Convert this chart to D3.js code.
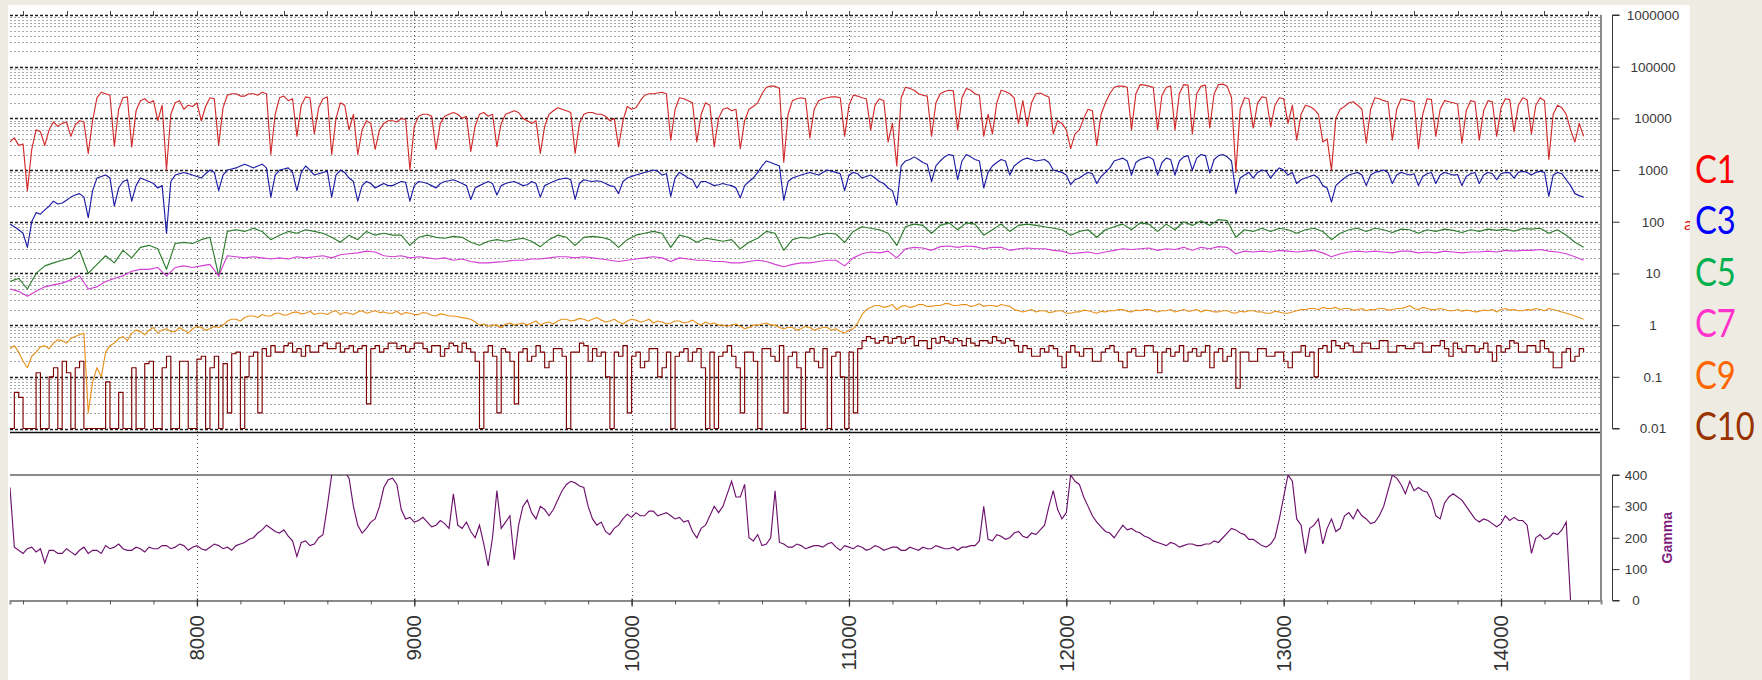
<!DOCTYPE html>
<html>
<head>
<meta charset="utf-8">
<script src="https://cdn.jsdelivr.net/npm/d3@7"></script>
<style>
  body { margin: 0; background: #eeece2; }
  svg { display: block; }
</style>
</head>
<body>
<svg id="chart" width="1762" height="680"></svg>
<script>
// Sample grid of the logs: first depth and the two sampling intervals
const depthStart = 7140;
const fineStep = 20;
const coarseStep = 40;

// C1 (fine grid)
const c1 = [3500,4200,3000,3200,400,2500,6000,5500,3000,6000,8500,7000,8000,8500,4500,7500,9000,8500,2100,9000,
  25000,32000,30000,28000,2900,15000,25000,26000,2800,14000,22000,24000,20000,22000,9000,18000,1000,12000,20000,22000,
  15000,18000,17000,20000,9000,17000,25000,24000,3000,16000,28000,30000,30000,27000,27000,30000,30000,28000,32000,30000,
  2000,12000,25000,27000,22000,24000,4500,18000,26000,25000,5000,16000,24000,26000,2000,10000,20000,18000,6000,12000,
  2000,6000,9000,8000,2500,6000,8000,9000,9000,8500,10000,9500,1000,7000,11000,12000,12000,11000,2500,8000,
  11000,12000,13000,12000,10000,11000,2300,7000,12000,13000,11000,12000,2850,8000,12000,13000,14000,13000,10000,9000,
  8000,9000,2100,7000,12000,14000,16000,15000,14000,13000,2100,8000,12000,13000,13000,12000,12000,11000,9000,10000,
  2800,9000,17000,15000,16000,22000,28000,30000,30000,31000,32000,30000,3800,15000,25000,24000,22000,20000,3500,12000,
  20000,18000,2800,10000,15000,16000,14000,15000,2600,9000,15000,17000,20000,30000,40000,42000,42000,38000,1400,12000,
  22000,24000,25000,24000,4200,15000,22000,24000,25000,26000,26000,25000,4500,18000,28000,27000,25000,24000,6000,18000,
  24000,22000,3500,8000,1200,25000,40000,38000,35000,30000,28000,27000,4500,20000,30000,33000,35000,34000,6000,25000,
  38000,35000,30000,28000,4500,12000,5000,20000,35000,33000,30000,25000,8000,22000,7000,20000,30000,31000,28000,26000,
  5000,9000,8000,6000,2600,5000,6000,10000,15000,14000,3000,12000,20000,30000,40000,42000,42000,40000,6000,30000,
  45000,44000,42000,40000,6000,28000,40000,42000,6000,30000,45000,44000,5000,30000,42000,44000,6500,30000,45000,46000,
  42000,25000,900,15000,25000,24000,6500,20000,26000,25000,6800,18000,25000,24000,8000,18000,3800,12000,18000,17000,
  15000,12000,3500,4000,1000,10000,15000,17000,20000,21000,18000,15000,3300,15000,25000,24000,22000,21000,3800,15000,
  24000,23000,22000,21000,2600,12000,24000,23000,4500,15000,22000,21000,20000,19000,3300,14000,22000,21000,3800,14000,
  22000,21000,4500,16000,24000,23000,5500,18000,25000,23000,5000,18000,25000,22000,1600,12000,18000,16000,12000,6000,
  3500,8000,4500];

// C3 (fine grid)
const c3 = [90,80,70,60,32,100,150,140,170,200,250,220,230,260,300,330,350,300,120,400,
  700,750,800,700,200,450,600,650,250,500,700,650,600,550,450,500,60,600,800,850,
  900,850,800,750,700,850,1000,900,400,800,1000,1050,1100,1200,1300,1200,1100,1200,1300,1100,
  300,800,1000,1050,1100,900,400,900,1200,1000,800,850,900,950,300,800,1000,900,700,600,
  250,500,600,550,450,500,550,500,500,550,600,580,250,500,600,580,550,500,450,550,
  600,620,650,600,550,500,270,450,500,550,600,550,330,500,550,580,600,550,500,520,
  600,550,300,500,550,600,650,680,700,650,270,550,650,620,600,620,600,550,500,480,
  350,600,700,750,800,850,900,950,1000,950,800,850,310,700,900,800,700,650,450,600,
  600,550,500,520,550,520,500,450,290,500,600,700,900,1200,1500,1400,1300,1200,260,600,
  700,750,800,850,900,850,800,900,1000,950,900,850,400,800,900,850,700,750,800,700,
  600,550,450,400,210,1200,1500,1600,1800,1600,1400,1300,600,1200,1500,1800,2000,1900,650,1500,
  2000,1800,1600,1500,450,900,1200,1400,1600,1500,800,1200,1400,1600,1700,1600,1500,1550,1600,1400,
  1000,950,900,800,520,650,700,800,900,850,550,750,900,1100,1500,1600,1700,1500,800,1400,
  1600,1700,1800,1600,800,1400,1700,1600,800,1500,1800,1900,1000,1700,2000,1900,870,1600,1900,2000,
  1800,1500,350,700,800,900,700,900,1000,950,700,900,1100,1000,800,900,550,650,700,750,
  800,700,500,450,240,500,600,700,800,850,900,800,500,800,900,950,1000,900,550,800,
  900,850,800,850,500,750,850,900,550,800,900,850,800,820,500,750,850,900,550,800,
  900,850,650,850,900,880,700,900,950,900,800,900,950,900,310,800,900,850,650,500,
  350,320,300];

// C5 (coarse grid)
const c5 = [7,8,5,10,14,16,18,20,28,10,
  15,22,16,28,20,32,35,30,12,38,
  40,38,45,50,9,65,70,65,75,65,
  45,55,65,60,70,65,60,50,40,55,
  45,65,55,60,55,55,35,50,55,50,
  48,52,50,40,35,42,45,42,45,48,
  42,33,45,55,50,35,50,52,50,45,
  32,45,55,60,65,60,32,55,50,40,
  48,45,42,45,30,40,48,65,60,28,
  45,50,48,55,60,58,40,65,80,75,
  70,60,35,80,90,85,60,85,95,70,
  95,90,55,70,90,65,85,90,85,80,
  75,70,55,65,70,50,70,80,90,70,
  95,90,65,90,70,100,85,105,85,110,
  105,50,70,65,75,65,75,70,60,70,
  75,65,45,60,70,75,65,75,70,62,
  72,70,60,70,65,72,68,62,70,65,
  72,68,72,66,74,72,75,60,70,55,
  40,32];

// C7 (coarse grid)
const c7 = [5,4.5,3.6,4.5,5.5,6,6.5,7.5,9,5,
  5.5,7,8,9,11,12,12,13,9,13,
  14,13,14,15,9,22,21,20,21,20,
  19,20,19,21,20,21,22,20,23,24,
  25,27,26,22,21,22,20,21,20,19,
  20,18,19,17,16,16,16.5,17,18,18,
  19,19,20,21,21,20,21,20,19,18,
  17,18,19,20,21,20,17,20,19,18,
  18,17,17,16,16,17,18,17,15,13.5,
  15,16,16,17,18,18,14,20,24,26,
  25,27,20,30,32,31,28,33,34,32,
  34,33,30,32,32,28,30,31,30,30,
  28,27,24,25,26,24,26,28,30,29,
  30,31,28,30,29,32,28,32,30,33,
  32,24,27,26,27,26,28,27,26,27,
  28,25,21,24,26,27,26,27,26,25,
  27,27,25,26,25,27,26,25,26,26,
  27,26,28,27,28,28,29,27,26,24,
  21,18];

// C9 (fine grid)
const c9 = [0.35,0.4,0.3,0.2,0.15,0.25,0.3,0.38,0.4,0.35,0.45,0.52,0.5,0.45,0.55,0.6,0.65,0.7,0.02,0.08,
  0.15,0.1,0.3,0.4,0.45,0.55,0.6,0.5,0.7,0.8,0.75,0.65,0.8,0.9,0.7,0.8,0.85,0.75,0.75,0.9,
  0.8,0.7,0.85,0.95,0.9,0.8,0.85,0.95,0.9,1.0,1.2,1.3,1.3,1.2,1.4,1.5,1.5,1.4,1.6,1.5,
  1.5,1.7,1.7,1.55,1.6,1.75,1.8,1.65,1.7,1.85,1.6,1.7,1.7,1.6,1.8,1.9,1.6,1.75,1.7,1.6,
  1.8,1.9,1.7,1.8,1.9,1.75,1.8,1.7,1.7,1.85,1.6,1.75,1.7,1.6,1.6,1.75,1.7,1.55,1.5,1.65,
  1.6,1.5,1.5,1.45,1.4,1.35,1.3,1.15,1.0,1.05,0.95,1.0,1.0,0.9,1.05,1.1,1.0,1.05,1.1,1.0,
  1.1,1.2,1.0,1.1,1.15,1.05,1.2,1.3,1.3,1.2,1.25,1.35,1.3,1.2,1.3,1.4,1.25,1.15,1.2,1.3,
  1.15,1.05,1.2,1.3,1.25,1.15,1.2,1.3,1.1,1.2,1.15,1.05,1.1,1.2,1.2,1.1,1.15,1.25,1.1,1.0,
  1.15,1.05,1.1,1.0,1.0,0.95,1.0,1.05,0.95,0.85,0.9,1.0,1.0,1.05,1.1,1.0,1.0,0.9,0.85,0.9,
  0.9,0.8,0.85,0.95,0.9,0.8,0.85,0.9,0.9,0.8,0.85,0.75,0.7,0.8,0.85,1.1,1.6,2.0,2.2,2.4,
  2.4,2.2,2.3,2.5,2.0,2.3,2.4,2.2,2.3,2.5,2.5,2.3,2.3,2.4,2.4,2.6,2.6,2.4,2.4,2.5,
  2.5,2.3,2.4,2.6,2.3,2.4,2.4,2.3,2.5,2.4,2.3,2.0,1.9,1.8,1.9,2.0,1.8,1.9,1.9,1.75,
  1.8,1.9,1.9,1.7,1.7,1.8,1.8,1.95,1.9,1.8,1.7,1.85,1.8,1.9,1.9,2.0,2.0,1.85,1.8,1.95,
  1.9,2.0,2.0,1.9,1.8,1.9,1.9,2.0,1.8,1.9,2.0,1.85,1.9,2.0,1.8,1.95,1.9,1.8,1.8,1.9,
  1.9,1.75,1.7,1.85,1.8,1.9,1.9,1.8,1.8,1.7,1.7,1.85,1.8,1.7,1.7,1.8,1.9,2.0,2.0,2.1,
  2.1,2.0,2.2,2.1,2.1,2.2,2.0,2.1,2.1,1.95,2.0,2.1,1.9,2.0,2.0,2.1,2.1,1.95,2.0,2.1,
  2.1,2.2,2.4,2.1,2.0,2.2,2.1,2.0,2.0,2.1,2.0,1.9,1.9,2.0,1.85,1.95,1.9,1.8,1.85,1.95,
  1.9,2.0,1.8,2.0,2.1,1.95,2.0,1.9,1.9,2.0,1.95,2.1,2.0,1.9,2.1,2.0,1.9,1.8,1.7,1.6,
  1.5,1.4,1.3];

// C10 (fine grid, drawn as steps)
const c10 = [0.01,0.05,0.04,0.01,0.01,0.01,0.12,0.01,0.01,0.1,0.15,0.01,0.2,0.12,0.01,0.15,0.2,0.01,0.01,0.01,
  0.01,0.01,0.08,0.01,0.01,0.05,0.01,0.01,0.15,0.01,0.01,0.18,0.2,0.01,0.01,0.15,0.25,0.01,0.01,0.2,
  0.2,0.01,0.01,0.22,0.25,0.01,0.15,0.25,0.01,0.18,0.02,0.28,0.3,0.01,0.1,0.25,0.3,0.02,0.35,0.25,
  0.4,0.3,0.3,0.4,0.45,0.3,0.35,0.25,0.4,0.3,0.3,0.4,0.45,0.35,0.35,0.45,0.3,0.35,0.4,0.3,
  0.35,0.4,0.03,0.35,0.4,0.3,0.35,0.45,0.45,0.35,0.4,0.3,0.35,0.45,0.45,0.35,0.3,0.4,0.4,0.25,
  0.35,0.45,0.4,0.3,0.45,0.35,0.3,0.2,0.01,0.3,0.4,0.25,0.02,0.35,0.3,0.2,0.03,0.3,0.35,0.2,
  0.25,0.4,0.3,0.15,0.2,0.35,0.35,0.25,0.01,0.3,0.3,0.45,0.4,0.2,0.35,0.25,0.3,0.1,0.01,0.3,
  0.25,0.4,0.02,0.25,0.3,0.15,0.2,0.35,0.35,0.1,0.15,0.3,0.01,0.25,0.3,0.35,0.2,0.3,0.35,0.15,
  0.01,0.3,0.01,0.25,0.3,0.4,0.25,0.15,0.02,0.3,0.3,0.2,0.01,0.35,0.35,0.25,0.2,0.4,0.02,0.25,
  0.3,0.15,0.01,0.3,0.35,0.2,0.15,0.35,0.01,0.25,0.3,0.1,0.01,0.3,0.02,0.35,0.5,0.6,0.55,0.45,
  0.5,0.6,0.45,0.55,0.6,0.45,0.55,0.6,0.4,0.5,0.5,0.35,0.55,0.45,0.6,0.5,0.45,0.55,0.5,0.4,
  0.55,0.45,0.4,0.5,0.5,0.45,0.6,0.5,0.45,0.55,0.5,0.4,0.3,0.4,0.35,0.25,0.25,0.35,0.3,0.4,
  0.35,0.25,0.15,0.3,0.4,0.3,0.25,0.35,0.35,0.2,0.2,0.3,0.35,0.4,0.3,0.2,0.15,0.3,0.35,0.25,
  0.25,0.4,0.4,0.3,0.12,0.3,0.35,0.25,0.3,0.4,0.2,0.3,0.35,0.25,0.3,0.4,0.15,0.3,0.35,0.2,
  0.25,0.35,0.06,0.3,0.3,0.2,0.2,0.35,0.35,0.25,0.25,0.3,0.3,0.2,0.15,0.3,0.3,0.4,0.25,0.3,
  0.1,0.35,0.4,0.3,0.5,0.4,0.35,0.45,0.4,0.3,0.3,0.45,0.45,0.35,0.35,0.5,0.5,0.3,0.3,0.4,
  0.4,0.35,0.35,0.45,0.45,0.3,0.3,0.4,0.4,0.5,0.35,0.25,0.45,0.35,0.3,0.4,0.4,0.3,0.35,0.45,
  0.3,0.2,0.4,0.3,0.35,0.5,0.45,0.3,0.3,0.4,0.4,0.3,0.5,0.35,0.3,0.15,0.15,0.3,0.35,0.2,
  0.25,0.35,0.3];

// Gamma ray (fine grid, API units)
const gamma = [360,170,160,150,165,170,155,165,120,160,160,150,150,165,155,145,160,170,150,160,
  160,150,175,165,170,180,165,160,160,170,165,155,170,165,165,175,175,165,170,180,
  175,160,170,175,165,160,170,180,175,165,170,160,175,180,185,195,200,215,225,240,
  230,220,215,225,205,190,140,185,190,175,180,200,210,300,400,410,400,410,390,300,
  240,215,230,250,260,300,360,385,390,370,290,260,265,250,255,265,250,235,240,255,
  245,230,340,240,230,250,220,200,240,180,110,200,350,230,250,270,130,240,300,320,
  280,260,300,290,270,290,320,350,370,380,375,365,360,300,260,240,250,220,210,230,
  240,260,275,265,280,270,270,285,285,270,275,280,270,260,265,250,255,220,200,230,
  240,270,300,280,300,340,380,330,330,370,200,190,210,175,180,200,350,185,180,170,
  170,180,175,165,170,175,175,170,180,185,170,160,175,170,165,175,170,160,165,175,
  170,160,165,170,170,160,160,170,165,160,170,165,165,175,170,165,165,170,160,170,
  170,175,175,190,300,195,190,210,205,195,200,215,220,205,200,215,210,225,240,300,
  350,290,260,280,400,380,370,330,300,270,250,235,220,215,200,220,240,225,230,220,
  215,205,200,190,185,180,175,185,180,170,175,180,180,175,175,180,180,190,185,200,
  215,230,225,215,210,195,195,185,175,170,180,200,260,330,400,380,260,240,150,230,
  240,260,180,230,260,220,230,270,280,260,290,270,260,245,250,270,300,350,400,390,
  370,340,380,350,360,350,345,320,270,260,310,330,340,330,320,300,280,260,250,260,
  255,245,235,245,270,255,265,255,255,240,150,200,210,195,200,215,210,225,250,0,
  null,null,null];

const logTicks = [0.01, 0.1, 1, 10, 100, 1000, 10000, 100000, 1000000];
const gammaTicks = [0, 100, 200, 300, 400];
const depthTicks = [8000, 9000, 10000, 11000, 12000, 13000, 14000];
const legendLabels = ["C1", "C3", "C5", "C7", "C9", "C10"];
const legendColors = ["#ff0000", "#0000ff", "#00b050", "#ff33cc", "#ff6600", "#993300"];

const curves = [
  { name: "C1", values: c1, step: fineStep, color: "#d12a2a" },
  { name: "C3", values: c3, step: fineStep, color: "#1c1ca6" },
  { name: "C5", values: c5, step: coarseStep, color: "#2d7d2d" },
  { name: "C7", values: c7, step: coarseStep, color: "#d23fd2" },
  { name: "C9", values: c9, step: fineStep, color: "#e9931f" },
  { name: "C10", values: c10, step: fineStep, color: "#7d0000", stairs: true }
];

// ---- layout ----
const svg = d3.select("#chart");
const left = 10, right = 1601;
const logTop = 15, logBottom = 428.5, logFrame = 432.5;
const gTop = 475, gBottom = 600.5;
const axisX = 1612.5;

const x = d3.scaleLinear().domain([7140, 14460]).range([left, right]);
const yLog = d3.scaleLog().domain([0.01, 1000000]).range([logBottom, logTop]);
const yG = d3.scaleLinear().domain([0, 400]).range([gBottom, gTop]);

// page
svg.append("rect").attr("width", 1762).attr("height", 680).attr("fill", "#eeece2");
svg.append("rect").attr("x", 8).attr("y", 5).attr("width", 1682).attr("height", 675).attr("fill", "#ffffff");

const defs = svg.append("defs");
defs.append("clipPath").attr("id", "clipLog").append("rect")
  .attr("x", left).attr("y", logTop - 1).attr("width", right - left).attr("height", logFrame - logTop + 1);
defs.append("clipPath").attr("id", "clipG").append("rect")
  .attr("x", left).attr("y", gTop).attr("width", right - left).attr("height", gBottom - gTop);

// horizontal log grid: minor lines first, decades on top
const allLogTicks = yLog.ticks();
const decadeSet = new Set(logTicks);
const grid = svg.append("g");
grid.selectAll("line.minor")
  .data(allLogTicks.filter(v => !decadeSet.has(v)))
  .join("line")
  .attr("x1", left).attr("x2", right)
  .attr("y1", d => Math.round(yLog(d)) + 0.5).attr("y2", d => Math.round(yLog(d)) + 0.5)
  .attr("stroke", "#a8a8a8").attr("stroke-width", 1).attr("stroke-dasharray", "2,2");
grid.selectAll("line.decade")
  .data(logTicks)
  .join("line")
  .attr("x1", left).attr("x2", right)
  .attr("y1", d => Math.round(yLog(d)) + 0.5).attr("y2", d => Math.round(yLog(d)) + 0.5)
  .attr("stroke", "#1a1a1a").attr("stroke-width", 1.3).attr("stroke-dasharray", "3,2");

// vertical depth grid through both panels
grid.selectAll("line.v")
  .data(depthTicks)
  .join("line")
  .attr("x1", d => Math.round(x(d)) + 0.5).attr("x2", d => Math.round(x(d)) + 0.5)
  .attr("y1", logTop).attr("y2", gBottom)
  .attr("stroke", "#555").attr("stroke-width", 1).attr("stroke-dasharray", "1,3");

// top ticks
const minorDepths = d3.range(7200, 14460, 200);
svg.append("g").selectAll("line")
  .data(minorDepths).join("line")
  .attr("x1", d => Math.round(x(d)) + 0.5).attr("x2", d => Math.round(x(d)) + 0.5)
  .attr("y1", logTop + 1).attr("y2", logTop - 4)
  .attr("stroke", "#444").attr("stroke-width", 1);

// log curves
const logPanel = svg.append("g").attr("clip-path", "url(#clipLog)");
curves.forEach(c => {
  const line = d3.line()
    .x((d, i) => x(depthStart + i * c.step))
    .y(d => yLog(Math.max(d, 0.01)))
    .curve(c.stairs ? d3.curveStepAfter : d3.curveLinear);
  logPanel.append("path")
    .datum(c.values)
    .attr("fill", "none")
    .attr("stroke", c.color)
    .attr("stroke-width", 1.15)
    .attr("stroke-linejoin", "round")
    .attr("d", line);
});

// panel frames
svg.append("line").attr("x1", left).attr("x2", right).attr("y1", logFrame).attr("y2", logFrame)
  .attr("stroke", "#111").attr("stroke-width", 1.5);
svg.append("line").attr("x1", left).attr("x2", right).attr("y1", gTop).attr("y2", gTop)
  .attr("stroke", "#8a8a8a").attr("stroke-width", 2);
svg.append("line").attr("x1", right).attr("x2", right).attr("y1", logTop).attr("y2", gBottom)
  .attr("stroke", "#8a8a8a").attr("stroke-width", 2);

// gamma curve
const gLine = d3.line()
  .defined(d => d !== null)
  .x((d, i) => x(depthStart + i * fineStep))
  .y(d => yG(d));
svg.append("g").attr("clip-path", "url(#clipG)")
  .append("path")
  .datum(gamma)
  .attr("fill", "none")
  .attr("stroke", "#6e116e")
  .attr("stroke-width", 1.15)
  .attr("d", gLine);

// bottom depth axis
const xAxisMinor = d3.axisBottom(x).tickValues(minorDepths).tickSize(4).tickFormat("");
const xAxisMajor = d3.axisBottom(x).tickValues(depthTicks).tickSize(8).tickFormat("");
const ax1 = svg.append("g").attr("transform", `translate(0,${gBottom})`).call(xAxisMinor);
ax1.select(".domain").attr("stroke", "#8a8a8a").attr("stroke-width", 2);
ax1.selectAll(".tick line").attr("stroke", "#555");
const ax2 = svg.append("g").attr("transform", `translate(0,${gBottom - 2})`).call(xAxisMajor);
ax2.select(".domain").remove();
ax2.selectAll(".tick line").attr("stroke", "#333").attr("stroke-width", 1.3);

svg.append("g").selectAll("text")
  .data(depthTicks).join("text")
  .attr("transform", d => `translate(${x(d)},615) rotate(-90)`)
  .attr("text-anchor", "end")
  .attr("dy", "0.35em")
  .attr("font-family", "Liberation Sans, Arial, sans-serif")
  .attr("font-size", 20.5)
  .attr("fill", "#333")
  .text(d => d);

// right log axis
const yAxis = d3.axisRight(yLog).tickValues(logTicks).tickSize(7).tickFormat(d => String(d));
const ya = svg.append("g").attr("transform", `translate(${axisX},0)`).call(yAxis);
ya.select(".domain").attr("stroke", "#333").attr("d", `M7,${logTop}H0V${logBottom}H7`);
ya.selectAll(".tick line").attr("stroke", "#333");
ya.selectAll(".tick text")
  .attr("x", 1653 - axisX).attr("text-anchor", "middle")
  .attr("font-family", "Liberation Sans, Arial, sans-serif")
  .attr("font-size", 13.5).attr("fill", "#3a3a3a");

// right gamma axis
const gAxis = d3.axisRight(yG).tickValues(gammaTicks).tickSize(7).tickFormat(d => String(d));
const ga = svg.append("g").attr("transform", `translate(${axisX},0)`).call(gAxis);
ga.select(".domain").attr("stroke", "#333").attr("d", `M7,${gTop}H0V${gBottom}H7`);
ga.selectAll(".tick line").attr("stroke", "#333");
ga.selectAll(".tick text")
  .attr("x", 1636 - axisX).attr("text-anchor", "middle")
  .attr("font-family", "Liberation Sans, Arial, sans-serif")
  .attr("font-size", 13.5).attr("fill", "#3a3a3a");

svg.append("text")
  .attr("transform", `translate(1667,${(gTop + gBottom) / 2}) rotate(-90)`)
  .attr("text-anchor", "middle")
  .attr("dy", "0.35em")
  .attr("font-family", "Liberation Sans, Arial, sans-serif")
  .attr("font-weight", "bold")
  .attr("font-size", 14)
  .attr("fill", "#7d1c7d")
  .text("Gamma");

// stray label fragment peeking from behind the legend strip
svg.append("text")
  .attr("x", 1684).attr("y", 230)
  .attr("font-family", "Lato, sans-serif")
  .attr("font-size", 18)
  .attr("fill", "#e02020")
  .text("a");

// legend strip (narrowed horizontally to a condensed look)
svg.append("rect").attr("x", 1690).attr("y", 0).attr("width", 72).attr("height", 680).attr("fill", "#eeece2");
svg.append("g").selectAll("text")
  .data(legendLabels).join("text")
  .attr("transform", (d, i) => `translate(1695,${183 + i * 51.4}) scale(0.84,1)`)
  .attr("font-family", "Lato, sans-serif")
  .attr("font-size", 39)
  .attr("fill", (d, i) => legendColors[i])
  .text(d => d);
</script>
</body>
</html>
